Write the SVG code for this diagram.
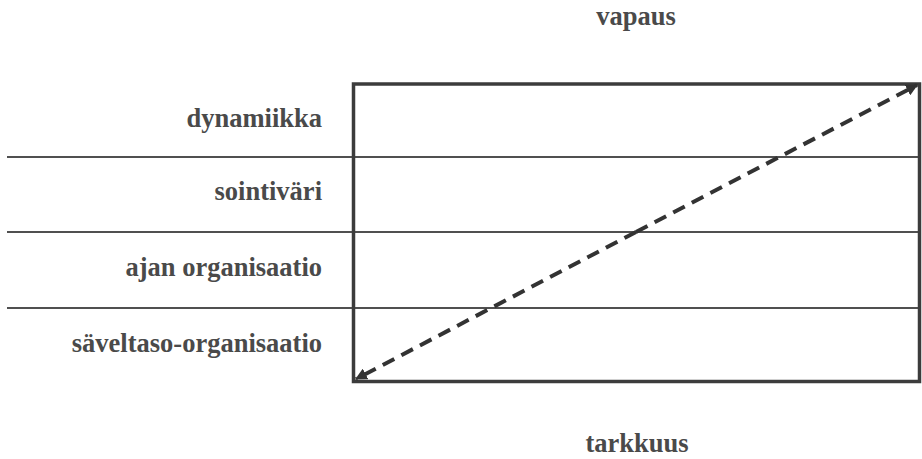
<svg xmlns="http://www.w3.org/2000/svg" width="922" height="459" viewBox="0 0 922 459">
  <style>
    .lbl { font-family: "Liberation Serif", "Times New Roman", serif; font-weight: bold; font-size: 26.5px; fill: #4a4a4a; text-anchor: end; }
    .ax { font-family: "Liberation Serif", "Times New Roman", serif; font-weight: bold; font-size: 26.5px; fill: #4a4a4a; text-anchor: middle; }
    .row { stroke: #505050; stroke-width: 2; fill: none; }
    .box { stroke: #3c3c3c; stroke-width: 3.5; fill: none; }
    .diag { stroke: #333; stroke-width: 4; stroke-dasharray: 13 8; fill: none; }
  </style>
  <defs>
    <marker id="ah" viewBox="0 0 10 10" refX="9" refY="5" markerWidth="3" markerHeight="3" orient="auto" markerUnits="strokeWidth">
      <path d="M0,0 L10,5 L0,10 z" fill="#333"/>
    </marker>
  </defs>
  <rect width="922" height="459" fill="#ffffff"/>
  <g id="axis-labels">
    <text class="ax" x="636" y="25">vapaus</text>
    <text class="ax" x="637" y="452">tarkkuus</text>
  </g>
  <g id="rows">
    <line class="row" x1="7" y1="157" x2="920" y2="157"/>
    <line class="row" x1="7" y1="232" x2="920" y2="232"/>
    <line class="row" x1="7" y1="308" x2="920" y2="308"/>
  </g>
  <g id="box">
    <rect class="box" x="353.5" y="84" width="566" height="297.5"/>
  </g>
  <g id="row-dynamiikka"><text class="lbl" x="322" y="127">dynamiikka</text></g>
  <g id="row-sointivari"><text class="lbl" x="322" y="200">sointiväri</text></g>
  <g id="row-ajan"><text class="lbl" x="322" y="276">ajan organisaatio</text></g>
  <g id="row-saveltaso"><text class="lbl" x="322" y="352">säveltaso-organisaatio</text></g>
  <g id="connectors">
    <line class="diag" x1="636" y1="232" x2="917" y2="85" marker-end="url(#ah)"/>
    <line class="diag" x1="636" y1="232" x2="356" y2="379" marker-end="url(#ah)"/>
  </g>
</svg>
